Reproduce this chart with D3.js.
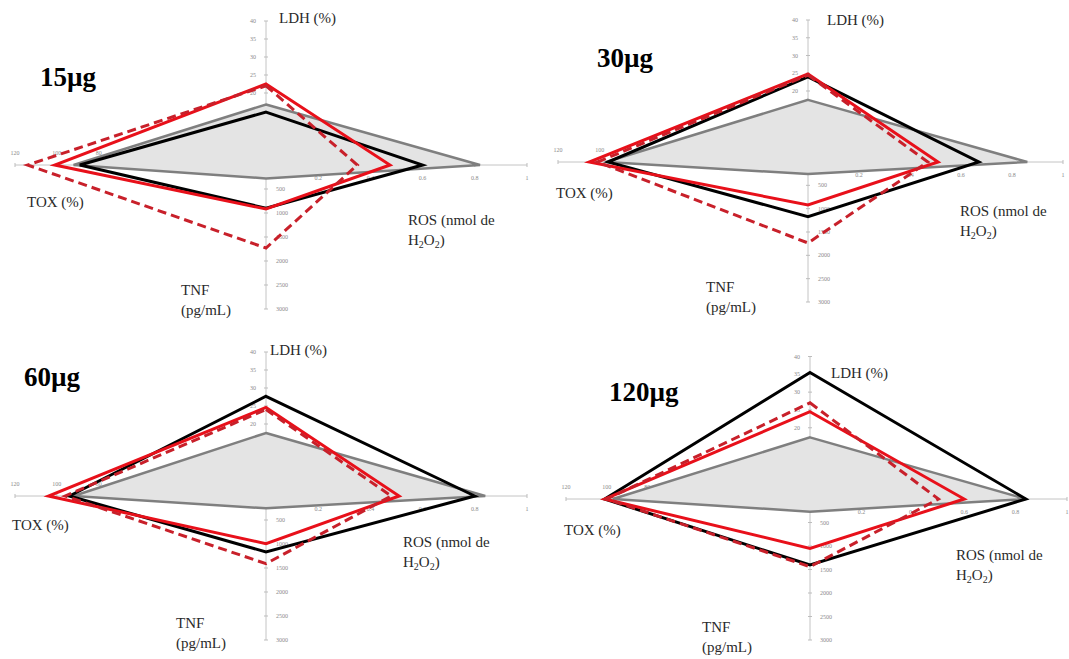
<!DOCTYPE html>
<html>
<head>
<meta charset="utf-8">
<script src="https://cdn.jsdelivr.net/npm/d3@7"></script>
<style>
  html, body { margin: 0; padding: 0; background: #fff; }
  svg { display: block; }
</style>
</head>
<body>
<svg id="chart" width="1069" height="659"></svg>
<script>
// ---------------- DATA ----------------
const panelTitles = ["15µg", "30µg", "60µg", "120µg"];
const axisNames = ["LDH", "ROS", "TNF", "TOX"];

// values per panel: [LDH (%), ROS (nmol H2O2), TNF (pg/mL), TOX (%)]
const grayValues      = [[16.8, 0.82, 280, 92], [17.5, 0.86, 257, 97], [17.5, 0.84, 256, 92], [17.3, 0.84, 270, 97]];
const blackValues     = [[14.7, 0.60, 900, 89], [24.0, 0.67, 1170, 96], [27.7, 0.80, 1166, 94], [35.5, 0.84, 1404, 101]];
const redValues       = [[22.5, 0.475, 917, 101], [24.8, 0.51, 920, 105], [24.6, 0.51, 992, 104], [24.5, 0.60, 1050, 101]];
const redDashedValues = [[22.0, 0.35, 1729, 114], [24.5, 0.47, 1735, 101], [24.0, 0.48, 1410, 96], [27.0, 0.50, 1440, 100]];

const ldhTicks = [5, 10, 15, 20, 25, 30, 35, 40];
const rosTicks = [0.2, 0.4, 0.6, 0.8, 1];
const tnfTicks = [500, 1000, 1500, 2000, 2500, 3000];
const toxTicks = [20, 40, 60, 80, 100, 120];
const domains = { LDH: [0, 40], ROS: [0, 1], TNF: [0, 3000], TOX: [0, 120] };

// ---------------- LAYOUT ----------------
const layout = [
  { cx: 266, cy: 165, ldh: 144, ros: 261, tnf: 144, tox: 251,
    title: [40, 86], ldhL: [279, 23], toxL: [27, 207], rosL: [408, 225], tnfL: [181, 295] },
  { cx: 808, cy: 162, ldh: 142, ros: 255, tnf: 140, tox: 250,
    title: [597, 67], ldhL: [827, 25], toxL: [556, 198], rosL: [960, 216], tnfL: [706, 292] },
  { cx: 266, cy: 496, ldh: 144, ros: 261, tnf: 144, tox: 251,
    title: [24, 386], ldhL: [270, 355], toxL: [12, 530], rosL: [403, 547], tnfL: [176, 628] },
  { cx: 810, cy: 499, ldh: 142.5, ros: 257, tnf: 141, tox: 244,
    title: [609, 401], ldhL: [831, 378], toxL: [564, 535], rosL: [956, 560], tnfL: [702, 632] }
];

const seriesStyles = [
  { data: grayValues, stroke: "#7f7f7f", width: 2.5, fill: "#e4e4e4", dash: null },
  { data: blackValues, stroke: "#000000", width: 3, fill: "none", dash: null },
  { data: redValues, stroke: "#e8101a", width: 3, fill: "none", dash: null },
  { data: redDashedValues, stroke: "#c8202a", width: 3, fill: "none", dash: "9,5" }
];

const svg = d3.select("#chart");
const serif = "'Liberation Serif', 'Times New Roman', serif";

layout.forEach((L, i) => {
  const g = svg.append("g");
  const sLDH = d3.scaleLinear().domain(domains.LDH).range([L.cy, L.cy - L.ldh]);
  const sROS = d3.scaleLinear().domain(domains.ROS).range([L.cx, L.cx + L.ros]);
  const sTNF = d3.scaleLinear().domain(domains.TNF).range([L.cy, L.cy + L.tnf]);
  const sTOX = d3.scaleLinear().domain(domains.TOX).range([L.cx, L.cx - L.tox]);

  // axes lines
  g.append("line").attr("x1", L.cx).attr("x2", L.cx)
    .attr("y1", sLDH(40)).attr("y2", sTNF(3000))
    .attr("stroke", "#c4c4c4").attr("stroke-width", 1);
  g.append("line").attr("x1", sTOX(120)).attr("x2", sROS(1))
    .attr("y1", L.cy).attr("y2", L.cy)
    .attr("stroke", "#c4c4c4").attr("stroke-width", 1);

  const tickColor = "#bdbdbd", labColor = "#8a8a8a", fs = 6;
  // LDH ticks (left labels)
  ldhTicks.forEach(t => {
    g.append("line").attr("x1", L.cx - 2).attr("x2", L.cx + 2)
      .attr("y1", sLDH(t)).attr("y2", sLDH(t)).attr("stroke", tickColor);
    g.append("text").attr("x", L.cx - 10).attr("y", sLDH(t) + 2)
      .attr("text-anchor", "end").attr("font-size", fs).attr("font-family", serif)
      .attr("fill", labColor).text(t);
  });
  g.append("text").attr("x", L.cx - 5).attr("y", L.cy + 8)
    .attr("text-anchor", "end").attr("font-size", fs).attr("font-family", serif)
    .attr("fill", labColor).text(0);
  // TNF ticks (right labels)
  tnfTicks.forEach(t => {
    g.append("line").attr("x1", L.cx - 2).attr("x2", L.cx + 2)
      .attr("y1", sTNF(t)).attr("y2", sTNF(t)).attr("stroke", tickColor);
    g.append("text").attr("x", L.cx + 10).attr("y", sTNF(t) + 2)
      .attr("text-anchor", "start").attr("font-size", fs).attr("font-family", serif)
      .attr("fill", labColor).text(t);
  });
  // TOX ticks (labels above)
  toxTicks.forEach(t => {
    g.append("line").attr("x1", sTOX(t)).attr("x2", sTOX(t))
      .attr("y1", L.cy - 2).attr("y2", L.cy + 2).attr("stroke", tickColor);
    g.append("text").attr("x", sTOX(t)).attr("y", L.cy - 10)
      .attr("text-anchor", "middle").attr("font-size", fs).attr("font-family", serif)
      .attr("fill", labColor).text(t);
  });
  // ROS ticks (labels below)
  rosTicks.forEach(t => {
    g.append("line").attr("x1", sROS(t)).attr("x2", sROS(t))
      .attr("y1", L.cy - 2).attr("y2", L.cy + 2).attr("stroke", tickColor);
    g.append("text").attr("x", sROS(t)).attr("y", L.cy + 15)
      .attr("text-anchor", "middle").attr("font-size", fs).attr("font-family", serif)
      .attr("fill", labColor).text(t);
  });

  // series polygons
  seriesStyles.forEach(s => {
    const v = s.data[i];
    const pts = [
      [L.cx, sLDH(v[0])],
      [sROS(v[1]), L.cy],
      [L.cx, sTNF(v[2])],
      [sTOX(v[3]), L.cy]
    ];
    g.append("path")
      .attr("d", d3.line()(pts) + "Z")
      .attr("fill", s.fill)
      .attr("stroke", s.stroke)
      .attr("stroke-width", s.width)
      .attr("stroke-linejoin", "miter")
      .attr("stroke-dasharray", s.dash);
  });

  // texts
  const tc = "#2a2a2a", tfs = 15;
  g.append("text").attr("x", L.title[0]).attr("y", L.title[1])
    .attr("font-family", serif).attr("font-weight", "bold").attr("font-size", 27)
    .attr("fill", "#000").text(panelTitles[i]);
  g.append("text").attr("x", L.ldhL[0]).attr("y", L.ldhL[1])
    .attr("font-family", serif).attr("font-size", tfs).attr("fill", tc).text("LDH (%)");
  g.append("text").attr("x", L.toxL[0]).attr("y", L.toxL[1])
    .attr("font-family", serif).attr("font-size", tfs).attr("fill", tc).text("TOX (%)");
  g.append("text").attr("x", L.rosL[0]).attr("y", L.rosL[1])
    .attr("font-family", serif).attr("font-size", tfs).attr("fill", tc).text("ROS (nmol de");
  const h = g.append("text").attr("x", L.rosL[0]).attr("y", L.rosL[1] + 20)
    .attr("font-family", serif).attr("font-size", tfs).attr("fill", tc);
  h.append("tspan").text("H");
  h.append("tspan").attr("font-size", 10).attr("dy", 3).text("2");
  h.append("tspan").attr("dy", -3).text("O");
  h.append("tspan").attr("font-size", 10).attr("dy", 3).text("2");
  h.append("tspan").attr("dy", -3).text(")");
  g.append("text").attr("x", L.tnfL[0]).attr("y", L.tnfL[1])
    .attr("font-family", serif).attr("font-size", tfs).attr("fill", tc).text("TNF");
  g.append("text").attr("x", L.tnfL[0]).attr("y", L.tnfL[1] + 20)
    .attr("font-family", serif).attr("font-size", tfs).attr("fill", tc).text("(pg/mL)");
});
</script>
</body>
</html>
